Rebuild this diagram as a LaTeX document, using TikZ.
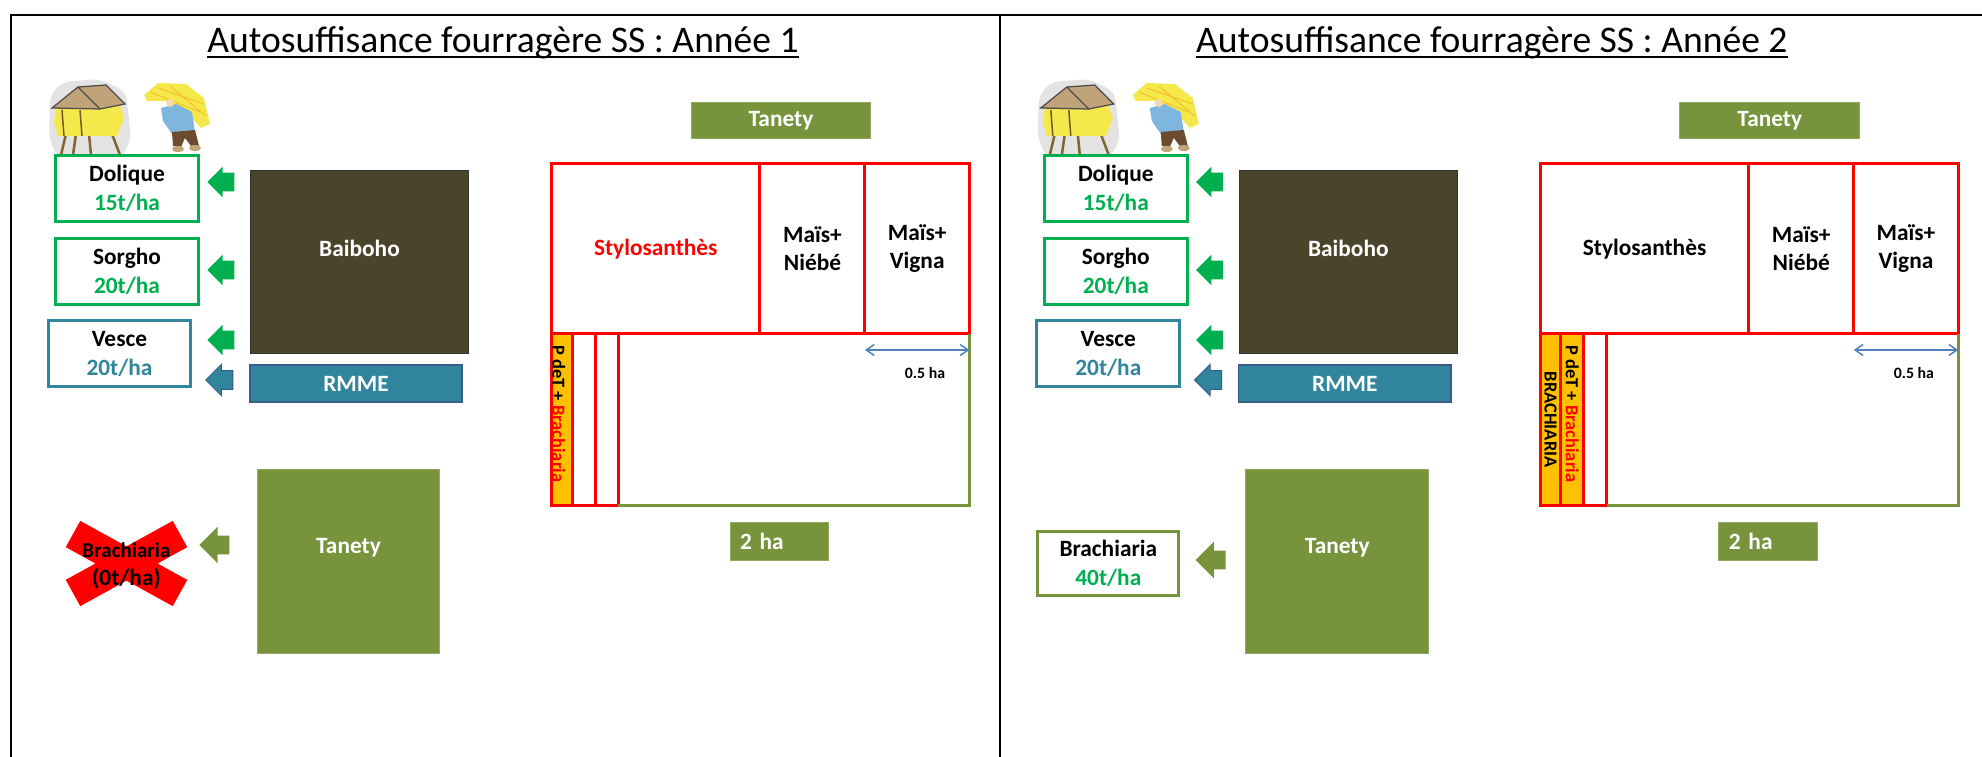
\documentclass[tikz,border=0pt]{standalone}
\usepackage{fontspec}
\setmainfont{Carlito}
\usetikzlibrary{positioning, arrows.meta, shapes.arrows}
\definecolor{herb}{HTML}{00B050}
\definecolor{aqua}{HTML}{31859C}
\definecolor{steel}{HTML}{385D8A}
\definecolor{mud}{HTML}{4A452A}
\definecolor{hill}{HTML}{77933C}
\definecolor{amber}{HTML}{FFC000}
\definecolor{measure}{HTML}{4F81BD}
\definecolor{hay}{HTML}{F4E84A}
\definecolor{wood}{HTML}{A57C3E}
\definecolor{shirt}{HTML}{7EB6E0}
\definecolor{trouser}{HTML}{6B4C2E}
\definecolor{skin}{HTML}{F3D9B1}
\tikzset{
  title/.style     = {font=\fontsize{21.4}{25}\selectfont, inner sep=0pt},
  cropbox/.style   = {rectangle, draw=herb, line width=0.06cm, fill=white,
                      minimum width=2.86cm, minimum height=1.32cm, align=center,
                      font=\fontsize{13.3}{16.5}\selectfont\bfseries},
  land/.style      = {rectangle, fill=hill, draw=hill!80!white, line width=0.02cm,
                      text=white, font=\fontsize{13.3}{16}\selectfont\bfseries},
  landtext/.style  = {text=white, font=\fontsize{13.3}{16}\selectfont\bfseries},
  parcel/.style    = {rectangle, draw=red, line width=0.06cm, outer sep=0pt,
                      minimum height=3.41cm, align=center,
                      font=\fontsize{13.3}{16}\selectfont\bfseries},
  band/.style      = {rectangle, draw=red, line width=0.06cm, outer sep=0pt,
                      minimum width=0.46cm, minimum height=3.43cm},
  bandtext/.style  = {rotate=-90, inner sep=0pt,
                      font=\fontsize{10.5}{12}\selectfont\bfseries},
  blk/.style       = {single arrow, shape border rotate=180, inner xsep=0pt,
                      inner ysep=0.18cm, single arrow head extend=0.12cm,
                      minimum height=0.54cm},
  bigblk/.style    = {blk, fill=hill, single arrow head extend=0.18cm,
                      minimum height=0.6cm},
  widtharrow/.style= {{Straight Barb[length=0.16cm,width=0.22cm]}-{Straight Barb[length=0.16cm,width=0.22cm]},
                      draw=measure, line width=0.03cm},
  cellrule/.style  = {line width=0.05cm},
  % hay loft on stilts
  granary/.pic = {
    \fill[gray!22, rounded corners=0.16cm] (50,96) -- (62,82) -- (100,79) -- (126,92)
      -- (131,140) -- (121,158) -- (58,158) -- (49,138) -- cycle;
    \foreach \a/\b in {66/61, 76/73, 89/91, 112/120}
      \draw[wood!80!black, line width=0.05cm] (\a,134) -- (\b,155);
    \fill[hay] (56,108) -- (120,106) -- (124,118) -- (117,136) -- (58,136) -- (54,122) -- cycle;
    \draw[wood!70!black, line width=0.03cm] (62,110) -- (64,136) (80,110) -- (82,136);
    \filldraw[fill=wood!70!white, draw=black!70, line width=0.025cm]
      (52,108) -- (78,87) -- (106,85) -- (125,104) -- (100,109) -- cycle;
    \draw[black!70, line width=0.025cm] (78,87) -- (100,109);
  },
  % man carrying a bundle of hay
  porter/.pic = {
    \fill[hay] (144,95) -- (158,83) -- (186,84) -- (204,98) -- (210,124) -- (201,128)
      -- (186,111) -- (166,101) -- (147,101) -- cycle;
    \draw[hay!60!orange, line width=0.02cm] (150,92) -- (200,112) (158,88) -- (204,104)
      (170,86) -- (206,116);
    \fill[shirt] (161,108) -- (176,104) -- (192,112) -- (195,132) -- (172,134) -- (163,121) -- cycle;
    \fill[skin] (170,103) circle (4);
    \fill[trouser] (172,132) -- (195,130) -- (199,146) -- (191,146) -- (185,138) -- (181,147)
      -- (173,146) -- cycle;
    \fill[wood!70!white] (178,149) ellipse (6 and 3) (195,148) ellipse (6 and 3);
  },
}

\begin{document}
\begin{tikzpicture}[x=0.02cm, y=-0.02cm]
\useasboundingbox (0,0) rectangle (1982,757);

% table borders
\draw[cellrule] (11,757) -- (11,15) -- (1982,15);
\draw[cellrule] (1000,15) -- (1000,757);

% ANNEE 1
\node[title, anchor=base] (t1) at (503,53) {Autosuffisance fourragère SS : Année 1};
\draw[line width=0.04cm] ([yshift=-0.08cm]t1.base west) -- ([yshift=-0.08cm]t1.base east);

\pic (gr1) at (0,0) {granary};
\pic (po1) at (0,0) {porter};

\node[cropbox] (dol1) at (127,188.5) {Dolique\\\textcolor{herb}{15t/ha}};
\node[cropbox, below=0.28cm of dol1] (sor1) {Sorgho\\\textcolor{herb}{20t/ha}};
\node[cropbox, draw=aqua, below=0.26cm of sor1, xshift=-0.15cm] (ves1) {Vesce\\\textcolor{aqua}{20t/ha}};

\node[land, fill=mud, draw=black!80, minimum width=4.36cm, minimum height=3.66cm] (bai1) at (359.5,262) {};
\node[landtext] (bai1t) at ([yshift=0.28cm]bai1.center) {Baiboho};
\node[land, fill=aqua, draw=steel, line width=0.03cm, minimum width=4.25cm, minimum height=0.75cm] (rm1) at (356,383.5) {RMME};

\node[blk, fill=herb] (ad1) at (225.5,182) {};
\node[blk, fill=herb] (as1) at (225.5,270) {};
\node[blk, fill=herb] (av1) at (225.5,340) {};
\node[blk, fill=aqua, draw=steel, line width=0.02cm] (ar1) at (224,380) {};

\node[land, minimum width=3.66cm, minimum height=3.7cm] (tb1) at (348.5,561.5) {};
\node[landtext] (tb1t) at ([yshift=0.27cm]tb1.center) {Tanety};
\node[bigblk] (ab1) at (219,545) {};

\draw[red, line width=0.6cm] (73,534) -- (180,593) (180,534) -- (73,593);
\node[align=center, font=\fontsize{13.3}{16}\selectfont\bfseries] (br1) at (126.5,566)
     {{\fontsize{12}{14}\selectfont Brachiaria}\\(0t/ha)};

% parcelles
\node[land, minimum width=3.6cm, minimum height=0.74cm] (tt1) at (781,120.5) {Tanety};
\node[parcel, minimum width=4.17cm, text=red] (sty1) at (655.75,248.75) {Stylosanthès};
\node[parcel, right=0pt of sty1, minimum width=2.1cm] (nie1) {Maïs+\\Niébé};
\node[parcel, right=0pt of nie1, minimum width=2.09cm] (vig1) {Maïs+\\Vigna};
\node[band, anchor=north west, fill=amber, minimum width=0.41cm] (b1a) at (sty1.south west) {};
\node[band, right=0pt of b1a] (b1b) {};
\node[band, right=0pt of b1b] (b1c) {};
\draw[hill, line width=0.05cm] (b1c.south east) -- (b1c.south east -| vig1.east) -- (vig1.south east);
\node[bandtext, anchor=west] (pt1) at ([yshift=-0.22cm, xshift=-0.06cm]b1a.north) {P deT + \textcolor{red}{Brachiaria}};
\draw[widtharrow] ([yshift=-0.32cm]vig1.south west) -- ([yshift=-0.32cm]vig1.south east);
\node[font=\fontsize{9}{11}\selectfont\bfseries] (hh1) at (925,373) {0.5 ha};
\node[land, minimum width=1.98cm, minimum height=0.78cm, text width=1.58cm, inner xsep=0.2cm, align=left] (ha1) at (779.5,541.5) {2 ha};

% ANNEE 2
\begin{scope}[xshift=19.78cm]
\node[title, anchor=base] (t2) at (503,53) {Autosuffisance fourragère SS : Année 2};
\draw[line width=0.04cm] ([yshift=-0.08cm]t2.base west) -- ([yshift=-0.08cm]t2.base east);

\pic (gr2) at (0,0) {granary};
\pic (po2) at (0,0) {porter};

\node[cropbox] (dol2) at (127,188.5) {Dolique\\\textcolor{herb}{15t/ha}};
\node[cropbox, below=0.28cm of dol2] (sor2) {Sorgho\\\textcolor{herb}{20t/ha}};
\node[cropbox, draw=aqua, below=0.26cm of sor2, xshift=-0.15cm] (ves2) {Vesce\\\textcolor{aqua}{20t/ha}};

\node[land, fill=mud, draw=black!80, minimum width=4.36cm, minimum height=3.66cm] (bai2) at (359.5,262) {};
\node[landtext] (bai2t) at ([yshift=0.28cm]bai2.center) {Baiboho};
\node[land, fill=aqua, draw=steel, line width=0.03cm, minimum width=4.25cm, minimum height=0.75cm] (rm2) at (356,383.5) {RMME};

\node[blk, fill=herb] (ad2) at (225.5,182) {};
\node[blk, fill=herb] (as2) at (225.5,270) {};
\node[blk, fill=herb] (av2) at (225.5,340) {};
\node[blk, fill=aqua, draw=steel, line width=0.02cm] (ar2) at (224,380) {};

\node[land, minimum width=3.66cm, minimum height=3.7cm] (tb2) at (348.5,561.5) {};
\node[landtext] (tb2t) at ([yshift=0.27cm]tb2.center) {Tanety};
\node[bigblk] (ab2) at (226.5,560) {};
\node[cropbox, draw=hill, minimum width=2.82cm, minimum height=1.3cm] (bra2) at (119.5,563.5) {Brachiaria\\\textcolor{herb}{40t/ha}};

% parcelles
\node[land, minimum width=3.6cm, minimum height=0.74cm] (tt2) at (781,120.5) {Tanety};
\node[parcel, minimum width=4.17cm] (sty2) at (655.75,248.75) {Stylosanthès};
\node[parcel, right=0pt of sty2, minimum width=2.1cm] (nie2) {Maïs+\\Niébé};
\node[parcel, right=0pt of nie2, minimum width=2.09cm] (vig2) {Maïs+\\Vigna};
\node[band, anchor=north west, fill=amber, minimum width=0.41cm] (b2a) at (sty2.south west) {};
\node[band, right=0pt of b2a, fill=amber] (b2b) {};
\node[band, right=0pt of b2b] (b2c) {};
\draw[hill, line width=0.05cm] (b2c.south east) -- (b2c.south east -| vig2.east) -- (vig2.south east);
\node[bandtext] (bt2) at (b2a.center) {BRACHIARIA};
\node[bandtext, anchor=west] (pt2) at ([yshift=-0.22cm]b2b.north) {P deT + \textcolor{red}{Brachiaria}};
\draw[widtharrow] ([yshift=-0.32cm]vig2.south west) -- ([yshift=-0.32cm]vig2.south east);
\node[font=\fontsize{9}{11}\selectfont\bfseries] (hh2) at (925,373) {0.5 ha};
\node[land, minimum width=1.98cm, minimum height=0.78cm, text width=1.58cm, inner xsep=0.2cm, align=left] (ha2) at (779.5,541.5) {2 ha};
\end{scope}

\end{tikzpicture}
\end{document}
